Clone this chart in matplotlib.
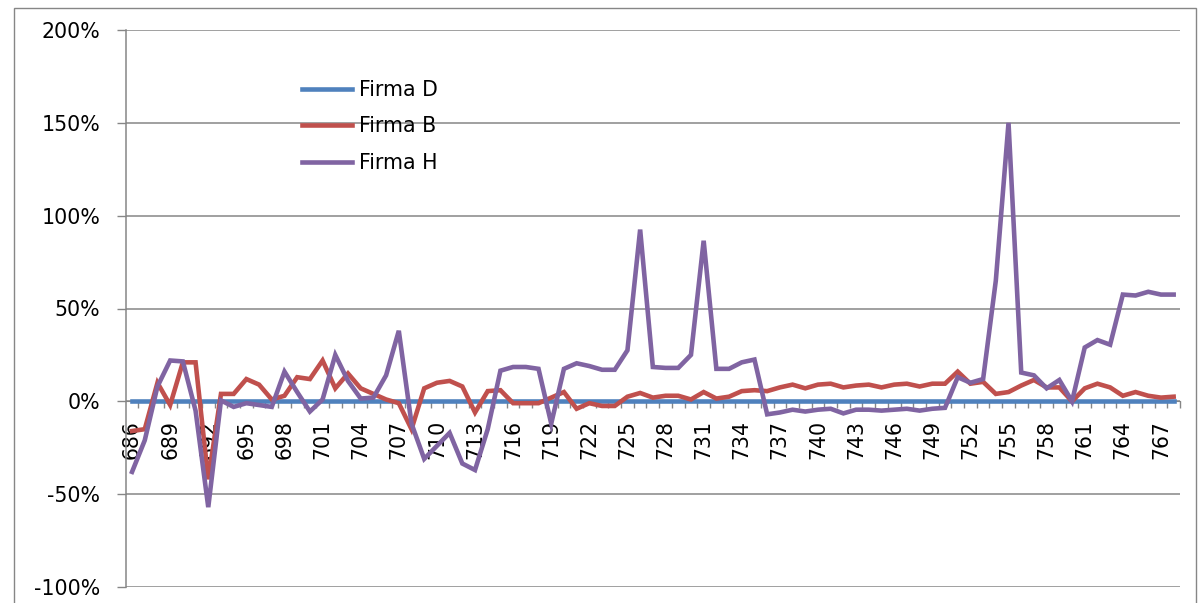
import matplotlib
matplotlib.use("Agg")
import matplotlib.pyplot as plt
from matplotlib.patches import Rectangle
from matplotlib.ticker import FixedLocator, FuncFormatter

# Periods on the category axis
periods = list(range(686, 769))

# Returns in percent per period
firma_d = [0] * len(periods)

firma_b = [
    -16, -15, 10, -2, 21, 21, -42, 4, 4, 12,
    9, 1, 3, 13, 12, 22, 7, 15, 7, 4,
    1, -1, -15, 7, 10, 11, 8, -6, 5.5, 6,
    -1, -1, -1, 2, 5, -4, -1, -2.5, -2.5, 2.5,
    4.5, 2, 3, 3, 1, 5, 1.5, 2.5, 5.5, 6,
    5.5, 7.5, 9, 7, 9, 9.5, 7.5, 8.5, 9, 7.5,
    9, 9.5, 8, 9.5, 9.5, 16, 9.5, 10.5, 4, 5,
    8.5, 11.5, 7.5, 7.5, 0, 7, 9.5, 7.5, 3, 5,
    3, 2, 2.5,
]

firma_h = [
    -38, -21, 8, 22, 21.5, -5, -57, 0.5, -3, -1,
    -2, -3, 16, 5, -5.5, 1, 25, 11, 1.5, 2,
    14, 38, -12, -31, -24, -17, -33.5, -37, -15, 16.5,
    18.5, 18.5, 17.5, -12, 17.5, 20.5, 19, 17, 17, 27.5,
    92.5, 18.5, 18, 18, 25, 86.5, 17.5, 17.5, 21, 22.5,
    -7, -6, -4.5, -5.5, -4.5, -4, -6.5, -4.5, -4.5, -5,
    -4.5, -4, -5, -4, -3.5, 13, 10, 12, 65, 150,
    15.5, 14, 7, 11.5, 0, 29, 33, 30.5, 57.5, 57,
    59, 57.5, 57.5,
]

series = [
    ("Firma D", firma_d, "#4F81BD"),
    ("Firma B", firma_b, "#C0504D"),
    ("Firma H", firma_h, "#8064A2"),
]

plt.rcParams["font.family"] = ["DejaVu Sans"]

W, H = 1202, 603
fig = plt.figure(figsize=(W / 100, H / 100), dpi=100)

GRID = "#868686"
FS = 14.8

# chart-area frame
frame = Rectangle((14 / W, -0.05), (1196 - 14) / W, 1.05 - 8 / H,
                  transform=fig.transFigure, fill=False,
                  edgecolor=GRID, linewidth=1.0)
fig.add_artist(frame)

left, right, top, bottom = 125.7, 1180, 30, 587
ax = fig.add_axes([left / W, 1 - bottom / H, (right - left) / W, (bottom - top) / H])

ax.set_xlim(-0.5, len(periods) - 0.5)
ax.set_ylim(-100, 200)

# value axis with horizontal gridlines
yticks = list(range(-100, 201, 50))
ax.set_yticks(yticks)
for yv in yticks:
    ax.axhline(yv, color=GRID, linewidth=1.1, zorder=1)
ax.yaxis.set_major_formatter(FuncFormatter(lambda v, p: f"{v:.0f}%"))
ax.tick_params(axis="y", direction="out", length=6.3, width=1.0, color=GRID,
               pad=12, labelsize=FS, labelcolor="black")

x = list(range(len(periods)))
handles = []
for name, vals, color in series:
    (ln,) = ax.plot(x, vals, color=color, linewidth=3.3, label=name,
                    solid_joinstyle="miter", zorder=3)
    handles.append(ln)

# category axis crossing at zero
ax.spines["bottom"].set_position(("data", 0))
ax.spines["bottom"].set_color(GRID)
ax.spines["left"].set_color(GRID)
ax.spines["left"].set_linewidth(1.1)
ax.spines["top"].set_visible(False)
ax.spines["right"].set_visible(False)

label_idx = [i for i in x if i % 3 == 0]
ax.xaxis.set_major_locator(FixedLocator(label_idx))
ax.set_xticklabels([str(periods[i]) for i in label_idx], rotation=90,
                   va="top", ha="center")
ax.xaxis.set_minor_locator(FixedLocator([i + 0.5 for i in x]))
ax.tick_params(axis="x", which="major", length=0, pad=13.5, labelsize=FS)
ax.tick_params(axis="x", which="minor", direction="out", length=5, width=1.0,
               color=GRID)

ax.legend(handles=handles, loc="upper left",
          bbox_to_anchor=(302 / W, 1 - 80 / H), bbox_transform=fig.transFigure,
          frameon=False, borderpad=0, borderaxespad=0, handlelength=2.45,
          handletextpad=0.3, labelspacing=0.8, fontsize=FS)

fig.savefig("out.png", dpi=100)
